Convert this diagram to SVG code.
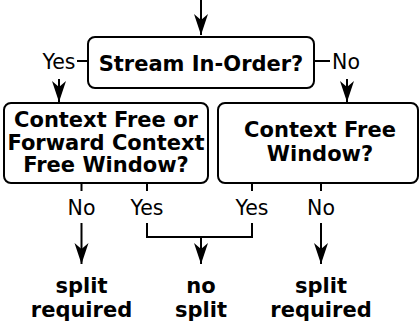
<svg xmlns="http://www.w3.org/2000/svg" width="420" height="327" viewBox="0 0 420 327">
<defs>
<style>
.box{fill:#fff;stroke:#000;stroke-width:2}
.ln{fill:none;stroke:#000;stroke-width:2}
.b{font-family:"DejaVu Sans",sans-serif;font-weight:bold;font-size:21px;text-anchor:middle;fill:#000}
.r{font-family:"DejaVu Sans",sans-serif;font-size:20.5px;text-anchor:middle;fill:#000}
</style>
<marker id="a" markerUnits="userSpaceOnUse" markerWidth="22" markerHeight="16" viewBox="-21 -8 22 16" refX="0" refY="0" orient="auto">
<path d="M0,0 L-21,-7 L-15,0 L-21,7 Z" fill="#000"/>
</marker>
</defs>
<g id="connectors">
<path class="ln" d="M201,0 V35" marker-end="url(#a)"/>
<path class="ln" d="M77,61 H88"/>
<path class="ln" d="M314,61 H330"/>
<path class="ln" d="M59,79 V102" marker-end="url(#a)"/>
<path class="ln" d="M347,79 V102" marker-end="url(#a)"/>
<path class="ln" d="M81.5,183 V191"/>
<path class="ln" d="M147,183 V191"/>
<path class="ln" d="M252,183 V191"/>
<path class="ln" d="M321,183 V191"/>
<path class="ln" d="M81.5,223 V264" marker-end="url(#a)"/>
<path class="ln" d="M147,223 V237 H252 V223"/>
<path class="ln" d="M201,237 V264" marker-end="url(#a)"/>
<path class="ln" d="M321,223 V264" marker-end="url(#a)"/>
<text class="r" x="59" y="69">Yes</text>
<text class="r" x="346" y="69">No</text>
<text class="r" x="81.5" y="215">No</text>
<text class="r" x="147" y="215">Yes</text>
<text class="r" x="252" y="215">Yes</text>
<text class="r" x="321" y="215">No</text>
</g>
<g id="stream">
<rect class="box" x="88" y="37" width="226" height="51" rx="7"/>
<text class="b" x="201" y="71">Stream In-Order?</text>
</g>
<g id="left">
<rect class="box" x="4" y="103" width="204" height="80" rx="7"/>
<text class="b" x="106" y="127">Context Free or</text>
<text class="b" x="106" y="150">Forward Context</text>
<text class="b" x="106" y="172">Free Window?</text>
</g>
<g id="right">
<rect class="box" x="218" y="103" width="200" height="80" rx="7"/>
<text class="b" x="320" y="137">Context Free</text>
<text class="b" x="320" y="161">Window?</text>
</g>
<g id="out1"><text class="b" x="81.5" y="293">split</text><text class="b" x="81.5" y="317">required</text></g>
<g id="out2"><text class="b" x="201" y="293">no</text><text class="b" x="201" y="317">split</text></g>
<g id="out3"><text class="b" x="321" y="293">split</text><text class="b" x="321" y="317">required</text></g>
</svg>
